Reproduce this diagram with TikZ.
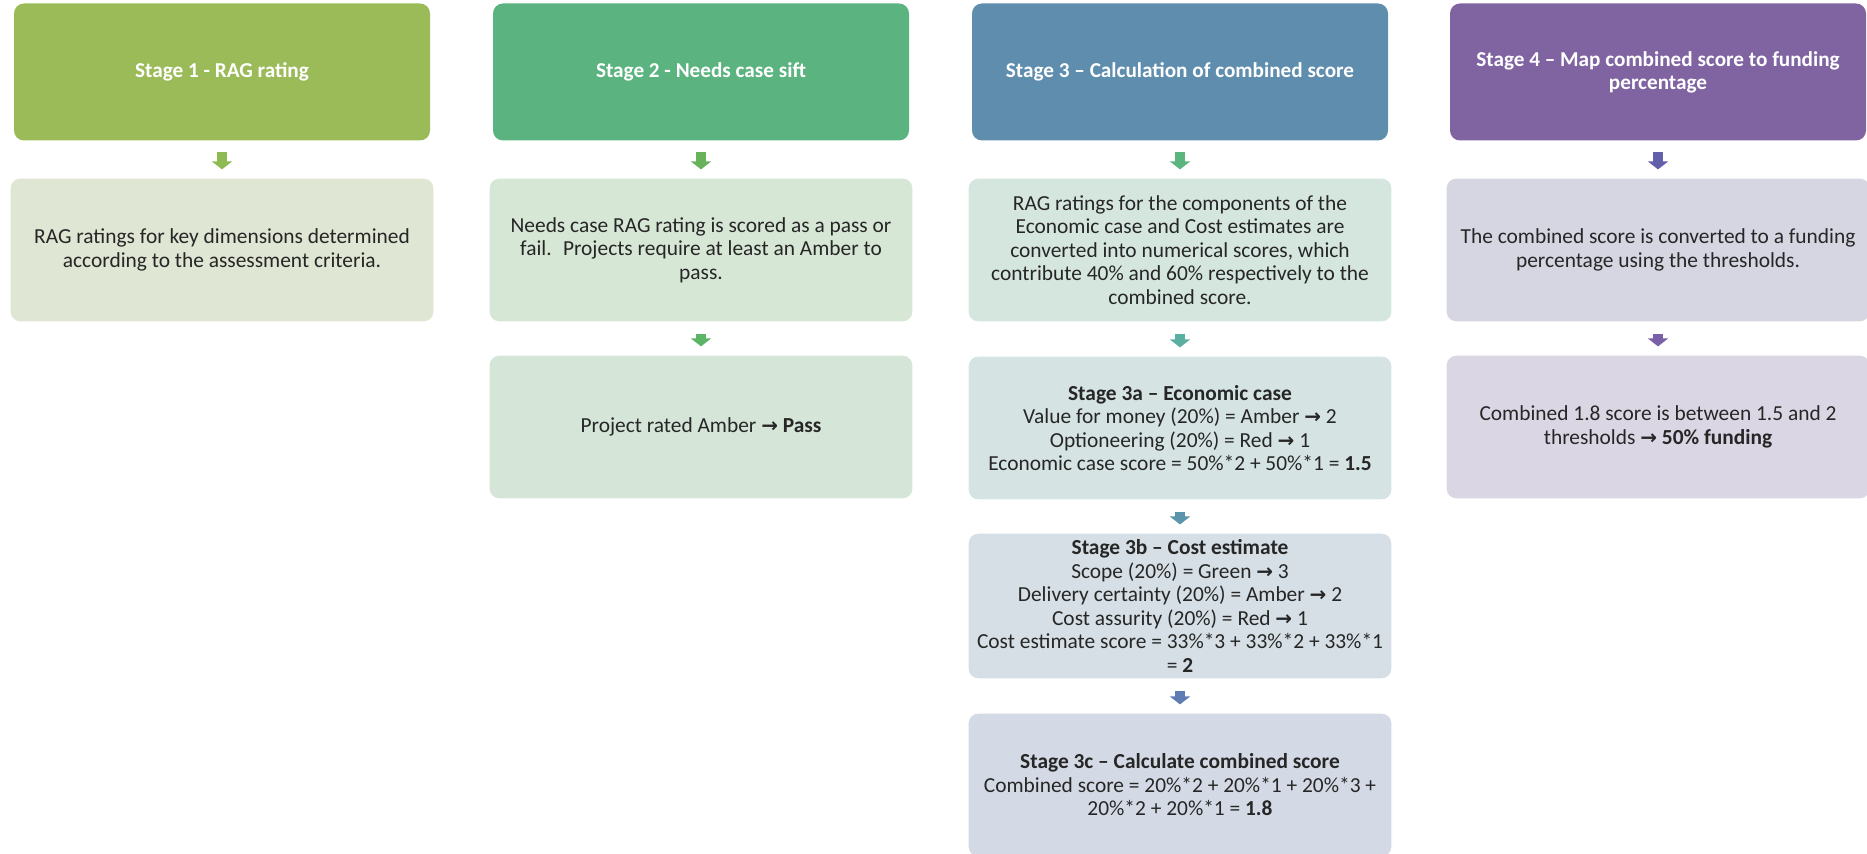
\documentclass[tikz,border=0pt]{standalone}
\usepackage{fontspec}
\setmainfont{Carlito}
\newfontfamily\arrowfont{DejaVu Sans}
\newcommand{\ra}{{\arrowfont\bfseries\fontsize{10pt}{11pt}\selectfont →}}
\usetikzlibrary{arrows.meta}

\definecolor{headone}{HTML}{9BBB59}
\definecolor{headtwo}{HTML}{5BB37F}
\definecolor{headthree}{HTML}{5F8DAD}
\definecolor{headfour}{HTML}{8064A2}
\definecolor{boxone}{HTML}{DFE6D3}
\definecolor{boxtwoa}{HTML}{D7E7D5}
\definecolor{boxtwob}{HTML}{D5E6D8}
\definecolor{boxthree}{HTML}{D5E6DF}
\definecolor{boxthreea}{HTML}{D5E3E3}
\definecolor{boxthreeb}{HTML}{D5DFE5}
\definecolor{boxthreec}{HTML}{D4DAE5}
\definecolor{boxfoura}{HTML}{D6D6E3}
\definecolor{boxfourb}{HTML}{DBD6E4}
\definecolor{arrone}{HTML}{8DBB52}
\definecolor{arrtwoa}{HTML}{68B25B}
\definecolor{arrtwob}{HTML}{5CB466}
\definecolor{arrthree}{HTML}{5CB47F}
\definecolor{arrthreea}{HTML}{5AAFA0}
\definecolor{arrthreeb}{HTML}{5C94AE}
\definecolor{arrthreec}{HTML}{5F7DB3}
\definecolor{arrfoura}{HTML}{6160A8}
\definecolor{arrfourb}{HTML}{7A60A8}

\tikzset{
  head/.style={rounded corners=5pt, minimum width=208pt, minimum height=68.5pt,
    text=white, align=center, font=\fontsize{10.6pt}{11.6pt}\selectfont\bfseries},
  info/.style={rounded corners=5pt, draw=white, line width=0.6pt, minimum width=212pt,
    minimum height=72pt, text=black!85, align=center,
    font=\fontsize{10.7pt}{11.75pt}\selectfont},
  flow/.style={line width=5pt, -{Triangle[width=10pt,length=4pt]},
    shorten <=5.5pt, shorten >=4pt},
}

\begin{document}
\begin{tikzpicture}[x=0.5pt,y=-0.5pt]
  \useasboundingbox (0,0) rectangle (1867,854);

  % stage headers
  \node[head,fill=headone] (h1) at (222,72) {Stage 1 - RAG rating};
  \node[head,fill=headtwo] (h2) at (701,72) {Stage 2 - Needs case sift};
  \node[head,fill=headthree] (h3) at (1180,72) {Stage 3 -- Calculation of combined score};
  \node[head,fill=headfour] (h4) at (1658,72) {Stage 4 -- Map combined score to funding\\percentage};

  % stage 1
  \node[info,fill=boxone] (s1) at (222,250)
    {RAG ratings for key dimensions determined\\according to the assessment criteria.};
  \draw[flow,arrone] (h1) -- (s1);

  % stage 2
  \node[info,fill=boxtwoa] (s2) at (701,250)
    {Needs case RAG rating is scored as a pass or\\fail.~ Projects require at least an Amber to\\pass.};
  \node[info,fill=boxtwob] (s2p) at (701,427) {Project rated Amber \ra{} \textbf{Pass}};
  \draw[flow,arrtwoa] (h2) -- (s2);
  \draw[flow,arrtwob] (s2) -- (s2p);

  % stage 3
  \node[info,fill=boxthree] (s3) at (1180,250)
    {RAG ratings for the components of the\\Economic case and Cost estimates are\\converted into numerical scores, which\\contribute 40\% and 60\% respectively to the\\combined score.};
  \node[info,fill=boxthreea] (s3a) at (1180,428)
    {\textbf{Stage 3a -- Economic case}\\Value for money (20\%) = Amber \ra{} 2\\Optioneering (20\%) = Red \ra{} 1\\Economic case score = 50\%*2 + 50\%*1 = \textbf{1.5}};
  \node[info,fill=boxthreeb] (s3b) at (1180,606)
    {\textbf{Stage 3b -- Cost estimate}\\Scope (20\%) = Green \ra{} 3\\Delivery certainty (20\%) = Amber \ra{} 2\\Cost assurity (20\%) = Red \ra{} 1\\Cost estimate score = 33\%*3 + 33\%*2 + 33\%*1\\= \textbf{2}};
  \node[info,fill=boxthreec] (s3c) at (1180,785)
    {\textbf{Stage 3c -- Calculate combined score}\\Combined score = 20\%*2 + 20\%*1 + 20\%*3 +\\20\%*2 + 20\%*1 = \textbf{1.8}};
  \draw[flow,arrthree] (h3) -- (s3);
  \draw[flow,arrthreea] (s3) -- (s3a);
  \draw[flow,arrthreeb] (s3a) -- (s3b);
  \draw[flow,arrthreec] (s3b) -- (s3c);

  % stage 4
  \node[info,fill=boxfoura] (s4) at (1658,250)
    {The combined score is converted to a funding\\percentage using the thresholds.};
  \node[info,fill=boxfourb] (s4f) at (1658,427)
    {Combined 1.8 score is between 1.5 and 2\\thresholds \ra{} \textbf{50\% funding}};
  \draw[flow,arrfoura] (h4) -- (s4);
  \draw[flow,arrfourb] (s4) -- (s4f);
\end{tikzpicture}
\end{document}
